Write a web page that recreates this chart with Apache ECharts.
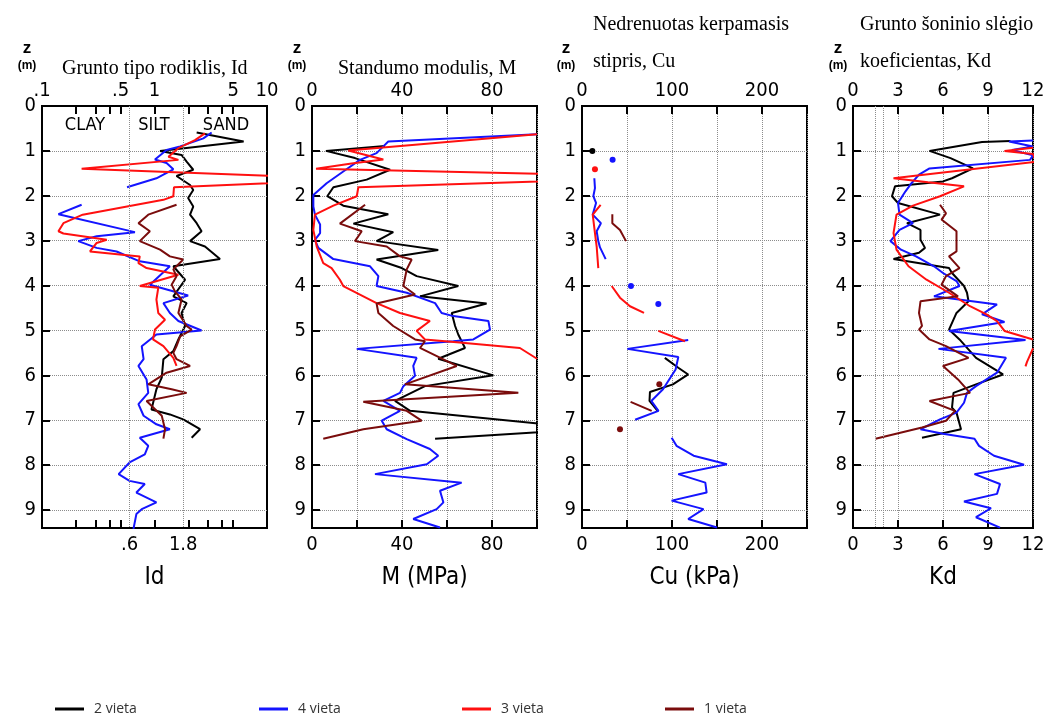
<!DOCTYPE html>
<html><head><meta charset="utf-8">
<script src="https://cdn.jsdelivr.net/npm/echarts@6/dist/echarts.min.js"></script>
<style>html,body{margin:0;padding:0;background:#fff}#c{width:1047px;height:718px}</style>
</head><body><div id="c"></div>
<script>
// ---------- tick / label values ----------
const idTopLabels = [0.1, 0.5, 1, 5, 10];
const idBottomLabels = [0.6, 1.8];
const idMinorTicks = [0.2, 0.3, 0.4, 0.5, 1, 2, 3, 4, 5];
const idZoneLines = [0.6, 1.8];
const kdExtraLines = [1.5, 2.0];
const seriesNames = ['2 vieta', '4 vieta', '3 vieta', '1 vieta'];
const seriesColors = ['#000000', '#1414ff', '#ff1010', '#7a0c0c'];

// ---------- Id (value, depth) ----------
const id2 = [[2.37,0.59],[6.2,0.79],[1.12,1.0],[1.74,1.09],[1.93,1.24],[2.21,1.42],[1.57,1.56],[2.07,1.76],[2.21,1.87],[1.99,2.05],[2.21,2.24],[2.07,2.42],[2.37,2.61],[2.62,2.79],[2.07,3.01],[2.81,3.13],[3.82,3.41],[1.47,3.57],[1.87,3.87],[1.47,4.24],[1.93,4.39],[1.74,4.61],[1.87,4.9],[1.63,5.2],[1.47,5.46],[1.2,5.64],[1.16,6.05],[1.04,6.31],[0.94,6.76],[1.37,6.87],[1.8,6.98],[2.54,7.2],[2.14,7.39]];
const id4 = [[3.22,0.59],[2.72,0.72],[1.69,0.9],[1.28,0.98],[1.01,1.19],[1.28,1.27],[1.47,1.41],[1.2,1.53],[1.04,1.61],[0.57,1.81],null,[0.225,2.2],[0.14,2.41],[0.67,2.81],[0.306,2.9],[0.21,3.01],[0.306,3.16],[0.46,3.24],[0.74,3.46],[1.37,3.57],[0.91,3.98],[1.99,4.22],[1.2,4.39],[1.37,4.61],[1.63,4.79],[2.62,5.0],[1.04,5.09],[0.77,5.35],[0.8,5.64],[0.72,5.79],[0.85,6.09],[0.88,6.39],[0.72,6.64],[0.8,6.9],[1.04,7.09],[1.37,7.2],[0.74,7.39],[0.88,7.57],[0.82,7.76],[0.6,7.94],[0.48,8.2],[0.6,8.35],[0.82,8.42],[0.69,8.61],[1.04,8.83],[0.77,8.98],[0.69,9.09],[0.65,9.42]];
const id3 = [[2.81,0.61],[2.29,0.76],[1.63,0.94],[1.33,1.13],[1.63,1.2],[0.225,1.4],[65,1.63],[1.49,1.81],[1.47,2.01],[1.2,2.09],[0.23,2.42],[0.155,2.61],[0.14,2.79],[0.155,2.84],[0.376,2.98],[0.306,3.05],[0.267,3.24],[0.74,3.35],[0.72,3.5],[0.85,3.61],[1.63,3.76],[0.74,4.01],[1.08,4.05],[1.04,4.31],[1.08,4.61],[1.24,4.76],[1.01,4.98],[0.97,5.2],[1.2,5.35],[1.47,5.61],[1.57,5.79]];
const id1 = [[1.57,2.2],[0.88,2.42],[0.72,2.61],[0.91,2.79],[0.74,3.01],[1.12,3.2],[1.37,3.35],[1.8,3.42],[1.47,3.64],[1.57,3.79],[1.42,3.98],[1.52,4.13],[1.74,4.31],[1.63,4.61],[1.93,4.9],[2.14,4.98],[1.69,5.13],[1.57,5.35],[1.47,5.5],[1.57,5.64],[2.07,5.79],[1.28,5.94],[0.88,6.2],[1.42,6.31],[1.93,6.39],[0.85,6.57],[1.16,6.9],[1.24,7.2],[1.2,7.41]];

// ---------- M, MPa (value, depth) ----------
const m2 = [[32.4,0.89],[6.2,1.0],[19.1,1.16],[34.7,1.42],[24.3,1.64],[9.5,1.81],[6.8,2.01],[13.9,2.22],[33.9,2.41],[18.4,2.62],[36.1,2.81],[28.7,3.01],[56.1,3.21],[28.7,3.42],[39.9,3.61],[46.5,3.79],[65.0,4.01],[48.0,4.24],[77.6,4.4],[62.1,4.61],[63.6,4.9],[65.0,5.09],[68.0,5.39],[56.1,5.63],[80.6,6.0],[50.2,6.24],[36.9,6.57],[43.6,6.79],[124,7.19],[54.7,7.41]];
const m4 = [[100,0.63],[33.9,0.79],[31.7,0.9],[28.7,1.05],[21.3,1.2],[13.9,1.46],[6.5,1.72],[0.6,1.98],[0.6,2.24],[1.3,2.42],[3.6,2.64],[3.6,2.83],[1.3,2.98],[2.8,3.16],[9.5,3.41],[25.8,3.57],[29.5,3.79],[28.7,4.01],[42.1,4.16],[54.7,4.39],[57.6,4.61],[62.8,4.68],[78.4,4.79],[79.1,4.98],[71.7,5.2],[62.8,5.24],[19.9,5.41],[46.5,5.61],[45.0,5.79],[45.8,6.01],[40.6,6.24],[39.1,6.39],[31.7,6.57],[39.1,6.79],[31.0,7.01],[33.2,7.2],[42.1,7.42],[52.4,7.64],[56.1,7.79],[51.0,7.98],[28.0,8.2],[66.5,8.39],[56.9,8.57],[58.4,8.83],[55.4,8.98],[45.0,9.2],[56.9,9.39]];
const m3 = [[100,0.63],[16.1,0.99],[31.7,1.19],[17.6,1.28],[1.8,1.4],[163,1.58],[20.6,1.81],[19.9,2.01],[9.5,2.22],[1.3,2.42],[0.6,2.76],[2.1,3.13],[5.0,3.5],[8.7,3.61],[12.4,3.87],[13.9,4.01],[28.7,4.39],[39.1,4.61],[52.4,4.79],[46.5,5.01],[50.2,5.2],[64.3,5.26],[92.4,5.39],[100,5.63]];
const m1 = [[23.6,2.2],[12.4,2.62],[22.1,2.79],[19.1,3.01],[33.2,3.13],[39.1,3.35],[44.3,3.42],[42.1,3.64],[40.6,4.01],[45.8,4.2],[28.7,4.4],[29.5,4.61],[36.1,4.9],[45.8,5.2],[50.2,5.24],[48.0,5.39],[64.3,5.79],[41.3,6.2],[91.7,6.39],[22.8,6.59],[42.1,6.79],[48.7,7.01],[22.8,7.2],[5.0,7.41]];

// ---------- Cu, kPa (value, depth) ----------
const cu2 = [[92,5.61],[107,5.83],[118,5.98],[101,6.2],[75.5,6.37],[75,6.57],[84,6.79]];
const cu2Dots = [[11.5,1.0]];
const cu4 = [[13.7,1.61],[14.4,1.83],[12.6,2.01],[15.6,2.16],[11.9,2.42],[21,2.61],[16.3,2.79],[18.1,3.01],[20,3.15],[26.3,3.41],null,[118,5.21],[50.4,5.41],[107,5.59],[104,5.87],[90,6.31],[77,6.57],[85,6.79],[59,6.99],null,[99.6,7.39],[105,7.57],[124,7.79],[161,7.98],[107,8.2],[137,8.39],[138.5,8.61],[99.6,8.79],[135,8.98],[118,9.2],[150,9.39]];
const cu4Dots = [[34,1.2],[54.4,4.01],[84.8,4.41]];
const cu3 = [[20.7,2.2],[11.9,2.42],[14.4,2.83],[16.3,3.13],[18.1,3.61],null,[33,4.01],[42.2,4.27],[53.3,4.46],[68.9,4.61],null,[84.8,5.01],[114.4,5.24]];
const cu3Dots = [[14.4,1.41]];
const cu1 = [[33.7,2.41],[33.7,2.61],[42.2,2.76],[48.9,3.01],null,[54,6.59],[77.4,6.79]];
const cu1Dots = [[85.9,6.2],[42.2,7.2]];

// ---------- Kd (value, depth) ----------
const kd2 = [[10.5,0.78],[8.6,0.8],[5.1,1.0],[6.5,1.16],[8.0,1.39],[6.6,1.61],[6.0,1.68],[2.8,1.79],[2.6,2.01],[3.0,2.16],[5.8,2.42],[3.6,2.61],[4.5,2.76],[4.5,2.98],[4.8,3.16],[4.4,3.27],[2.7,3.41],[6.4,3.61],[6.6,3.72],[7.4,4.01],[7.6,4.16],[7.7,4.35],[6.9,4.61],[6.4,4.98],[7.1,5.2],[8.2,5.61],[10.0,5.98],[8.2,6.2],[6.7,6.39],[6.6,6.72],[6.9,6.83],[7.2,7.2],[4.6,7.39]];
const kd4 = [[12,0.77],[10.4,0.79],[12,0.9],[10.6,0.98],[12,1.1],[11.8,1.2],[5.1,1.39],[4.4,1.53],[3.9,1.72],[3.5,1.9],[3.0,2.16],[3.1,2.42],[4.0,2.61],[3.1,2.76],[2.5,3.01],[3.2,3.2],[4.2,3.35],[5.4,3.57],[6.0,3.72],[6.9,3.9],[7.1,4.01],[5.4,4.24],[9.6,4.42],[8.6,4.64],[10.1,4.81],[6.4,5.01],[11.5,5.21],[5.7,5.41],[10.2,5.61],[9.6,5.94],[8.2,6.24],[7.6,6.39],[7.4,6.61],[6.9,6.83],[5.8,6.98],[4.5,7.2],[6.0,7.3],[8.1,7.41],[8.4,7.57],[9.4,7.79],[11.4,7.99],[8.1,8.2],[9.8,8.42],[9.6,8.64],[7.4,8.81],[9.2,8.96],[8.2,9.16],[9.8,9.39]];
const kd3 = [[12,0.93],[10.1,1.0],[12,1.07],[12.2,1.24],[2.7,1.61],[5.0,1.7],[7.4,1.79],[5.8,2.01],[4.0,2.22],[2.9,2.42],[2.7,2.83],[2.9,3.2],[3.7,3.57],[4.9,3.87],[6.4,4.16],[7.8,4.46],[8.9,4.64],[9.6,4.79],[10.1,5.01],[12,5.2],null,[12,5.4],[11.6,5.7],[11.5,5.8]];
const kd1 = [[5.8,2.2],[6.2,2.39],[5.9,2.53],[6.9,2.79],[6.9,3.24],[6.4,3.35],[7.1,3.61],[6.2,3.79],[5.9,3.98],[7.0,4.24],[4.5,4.35],[4.4,4.61],[4.6,4.9],[4.4,4.98],[5.1,5.2],[6.2,5.35],[7.7,5.61],[6.0,5.79],[7.0,6.09],[7.8,6.39],[5.1,6.57],[6.8,6.79],[6.2,7.01],[4.6,7.16],[1.5,7.41]];

// ---------- build ----------
const NARROW = '"Liberation Sans Narrow","Arial Narrow","DejaVu Sans Condensed","Liberation Sans",sans-serif';
const SERIF = '"Liberation Serif","Times New Roman",serif';
const chart = echarts.init(document.getElementById('c'), null, {renderer: 'canvas'});

const gridBoxes = [
  {left: 42, top: 106, width: 225, height: 422},
  {left: 312, top: 106, width: 225, height: 422},
  {left: 582, top: 106, width: 225, height: 422},
  {left: 853, top: 106, width: 180, height: 422}
];
const grids = gridBoxes.map(g => Object.assign({}, g, {
  show: true, borderColor: '#000', borderWidth: 2, backgroundColor: 'transparent',
  containLabel: false, outerBoundsMode: 'none'
}));

function fmtId(v) {
  const s = String(+(+v).toPrecision(3));
  return s.indexOf('0.') === 0 ? s.slice(1) : s;
}
const axLine = {show: true, onZero: false, lineStyle: {color: '#000', width: 2}};
const axTick = {show: true, inside: true, length: 8, lineStyle: {color: '#000', width: 2}};
const lblBase = {color: '#000', fontFamily: NARROW, fontSize: 20};
const dotted = {show: true, lineStyle: {color: '#8c8c8c', type: 'dotted', width: 1}};
const nameStyle = {color: '#000', fontFamily: NARROW, fontSize: 24};

function xAx(gi, pos, extra) {
  return Object.assign({
    gridIndex: gi, position: pos,
    axisLine: axLine, axisTick: axTick,
    axisLabel: Object.assign({}, lblBase, {margin: pos === 'top' ? 5 : 7}),
    splitLine: {show: false}
  }, extra);
}

const xAxes = [
  // Id panel (log)
  xAx(0, 'top', {type: 'log', logBase: 10, min: 0.1, max: 10,
    axisTick: Object.assign({}, axTick, {customValues: idMinorTicks}),
    axisLabel: Object.assign({}, lblBase, {margin: 5, customValues: idTopLabels, formatter: fmtId})}),
  xAx(0, 'bottom', {type: 'log', logBase: 10, min: 0.1, max: 10,
    axisTick: Object.assign({}, axTick, {customValues: idMinorTicks}),
    axisLabel: Object.assign({}, lblBase, {margin: 7, customValues: idBottomLabels, formatter: fmtId}),
    name: 'Id', nameLocation: 'middle', nameGap: 38, nameTextStyle: nameStyle}),
  // M panel
  xAx(1, 'top', {type: 'value', min: 0, max: 100, interval: 20, splitLine: dotted,
    axisLabel: Object.assign({}, lblBase, {margin: 5, formatter: v => (v % 40 === 0 && v < 100) ? String(v) : ''})}),
  xAx(1, 'bottom', {type: 'value', min: 0, max: 100, interval: 20,
    axisLabel: Object.assign({}, lblBase, {margin: 7, formatter: v => (v % 40 === 0 && v < 100) ? String(v) : ''}),
    name: 'M (MPa)', nameLocation: 'middle', nameGap: 38, nameTextStyle: nameStyle}),
  // Cu panel
  xAx(2, 'top', {type: 'value', min: 0, max: 250, interval: 50, splitLine: dotted,
    axisLabel: Object.assign({}, lblBase, {margin: 5, formatter: v => (v % 100 === 0) ? String(v) : ''})}),
  xAx(2, 'bottom', {type: 'value', min: 0, max: 250, interval: 50,
    axisLabel: Object.assign({}, lblBase, {margin: 7, formatter: v => (v % 100 === 0) ? String(v) : ''}),
    name: 'Cu (kPa)', nameLocation: 'middle', nameGap: 38, nameTextStyle: nameStyle}),
  // Kd panel
  xAx(3, 'top', {type: 'value', min: 0, max: 12, interval: 3, splitLine: dotted,
    axisLabel: Object.assign({}, lblBase, {margin: 5})}),
  xAx(3, 'bottom', {type: 'value', min: 0, max: 12, interval: 3,
    axisLabel: Object.assign({}, lblBase, {margin: 7}),
    name: 'Kd', nameLocation: 'middle', nameGap: 38, nameTextStyle: nameStyle})
];
const dataXAxis = [0, 2, 4, 6];

const yAxes = gridBoxes.map((g, i) => ({
  gridIndex: i, type: 'value', inverse: true, min: 0, max: 9.4, interval: 1,
  axisLine: axLine, axisTick: axTick,
  axisLabel: Object.assign({}, lblBase, {margin: 6, showMaxLabel: false,
    formatter: v => Number.isInteger(+v) ? String(v) : ''}),
  splitLine: dotted
}));

function clean(arr) { return arr.map(p => p === null ? ['-', '-'] : p); }
function lineS(si, panel, data, extra) {
  return Object.assign({
    type: 'line', name: seriesNames[si], xAxisIndex: dataXAxis[panel], yAxisIndex: panel,
    data: clean(data), showSymbol: false, symbol: 'none', connectNulls: false, clip: true,
    lineStyle: {color: seriesColors[si], width: 2}, itemStyle: {color: seriesColors[si]},
    emphasis: {disabled: true}, animation: false, z: 3
  }, extra || {});
}
function dotS(si, panel, data) {
  return {
    type: 'scatter', name: seriesNames[si], xAxisIndex: dataXAxis[panel], yAxisIndex: panel,
    data: data, symbol: 'circle', symbolSize: 6, itemStyle: {color: seriesColors[si], opacity: 1},
    emphasis: {disabled: true}, animation: false, z: 4
  };
}
function vLines(vals) {
  return {silent: true, symbol: 'none', label: {show: false},
    lineStyle: {color: '#8c8c8c', type: 'dotted', width: 1}, animation: false,
    data: vals.map(v => ({xAxis: v}))};
}

const series = [
  lineS(0, 0, id2, {markLine: vLines(idZoneLines)}), lineS(1, 0, id4), lineS(2, 0, id3), lineS(3, 0, id1),
  lineS(0, 1, m2), lineS(1, 1, m4), lineS(2, 1, m3), lineS(3, 1, m1),
  lineS(0, 2, cu2), lineS(1, 2, cu4), lineS(2, 2, cu3), lineS(3, 2, cu1),
  dotS(0, 2, cu2Dots), dotS(1, 2, cu4Dots), dotS(2, 2, cu3Dots), dotS(3, 2, cu1Dots),
  lineS(0, 3, kd2, {markLine: vLines(kdExtraLines)}), lineS(1, 3, kd4), lineS(2, 3, kd3), lineS(3, 3, kd1)
];

const legendLeft = [50, 254, 457, 660];
const legends = seriesNames.map((n, i) => ({
  data: [{name: n, icon: 'rect', itemStyle: {color: seriesColors[i]}}],
  left: legendLeft[i], top: 697, itemWidth: 29, itemHeight: 3, selectedMode: false,
  textStyle: {fontFamily: '"Open Sans","Noto Sans",sans-serif', fontSize: 14, color: '#333', padding: [0, 0, 0, 5]}
}));

function txt(text, x, y, font, align) {
  return {type: 'text', silent: true, style: {text: text, x: x, y: y, font: font, fill: '#000',
    align: align || 'left', verticalAlign: 'middle'}};
}
const titleFont = '20px ' + SERIF;
const zFont = 'bold 17px "Liberation Sans",sans-serif';
const mFont = 'bold 12px "Liberation Sans",sans-serif';
const zoneFont = '18px ' + NARROW;
const zX = [27, 297, 566, 838];
const graphics = [
  txt('Grunto tipo rodiklis, Id', 62, 69, titleFont),
  txt('Standumo modulis, M', 338, 69, titleFont),
  txt('Nedrenuotas kerpamasis', 593, 25, titleFont),
  txt('stipris, Cu', 593, 62, titleFont),
  txt('Grunto šoninio slėgio', 860, 25, titleFont),
  txt('koeficientas, Kd', 860, 62, titleFont),
  txt('CLAY', 85, 125, zoneFont, 'center'),
  txt('SILT', 154, 125, zoneFont, 'center'),
  txt('SAND', 226, 125, zoneFont, 'center')
];
zX.forEach(x => { graphics.push(txt('z', x, 48, zFont, 'center')); graphics.push(txt('(m)', x, 66, mFont, 'center')); });

chart.setOption({
  backgroundColor: '#ffffff',
  animation: false,
  grid: grids,
  xAxis: xAxes,
  yAxis: yAxes,
  legend: legends,
  series: series,
  graphic: graphics
});
</script>
</body></html>
